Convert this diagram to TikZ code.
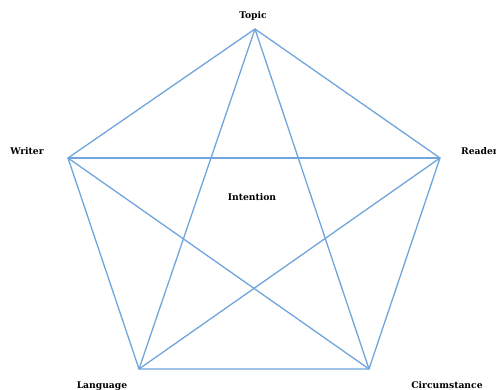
\documentclass[tikz,border=0pt]{standalone}
\usepackage{fontspec}
\setmainfont{DejaVu Serif}
\begin{document}
\begin{tikzpicture}[x=1pt,y=1pt,
  edge/.style={draw={rgb,255:red,112;green,166;blue,220}, line width=1.3pt},
  lbl/.style={font=\bfseries\fontsize{9.2}{11}\selectfont, inner sep=0pt}]
\useasboundingbox (0,0) rectangle (496,390);
\fill[white] (0,0) rectangle (496,390);
\coordinate (T) at (255,361);
\coordinate (R) at (440,232);
\coordinate (C) at (369,21);
\coordinate (L) at (139,21);
\coordinate (W) at (68,232);
\draw[edge] (T) -- (R) -- (C) -- (L) -- (W) -- cycle;
\draw[edge] (T) -- (C);
\draw[edge] (T) -- (L);
\draw[edge] (W) -- (R);
\draw[edge] (W) -- (C);
\draw[edge] (R) -- (L);
\node[lbl] (lt) at (253,374) {Topic};
\node[lbl] (lw) at (27,239) {Writer};
\node[lbl, anchor=west] (lr) at (461,239) {Reader};
\node[lbl] (ll) at (102,4) {Language};
\node[lbl] (lc) at (447,4.5) {Circumstance};
\node[lbl] (li) at (252,193) {Intention};
\end{tikzpicture}
\end{document}
